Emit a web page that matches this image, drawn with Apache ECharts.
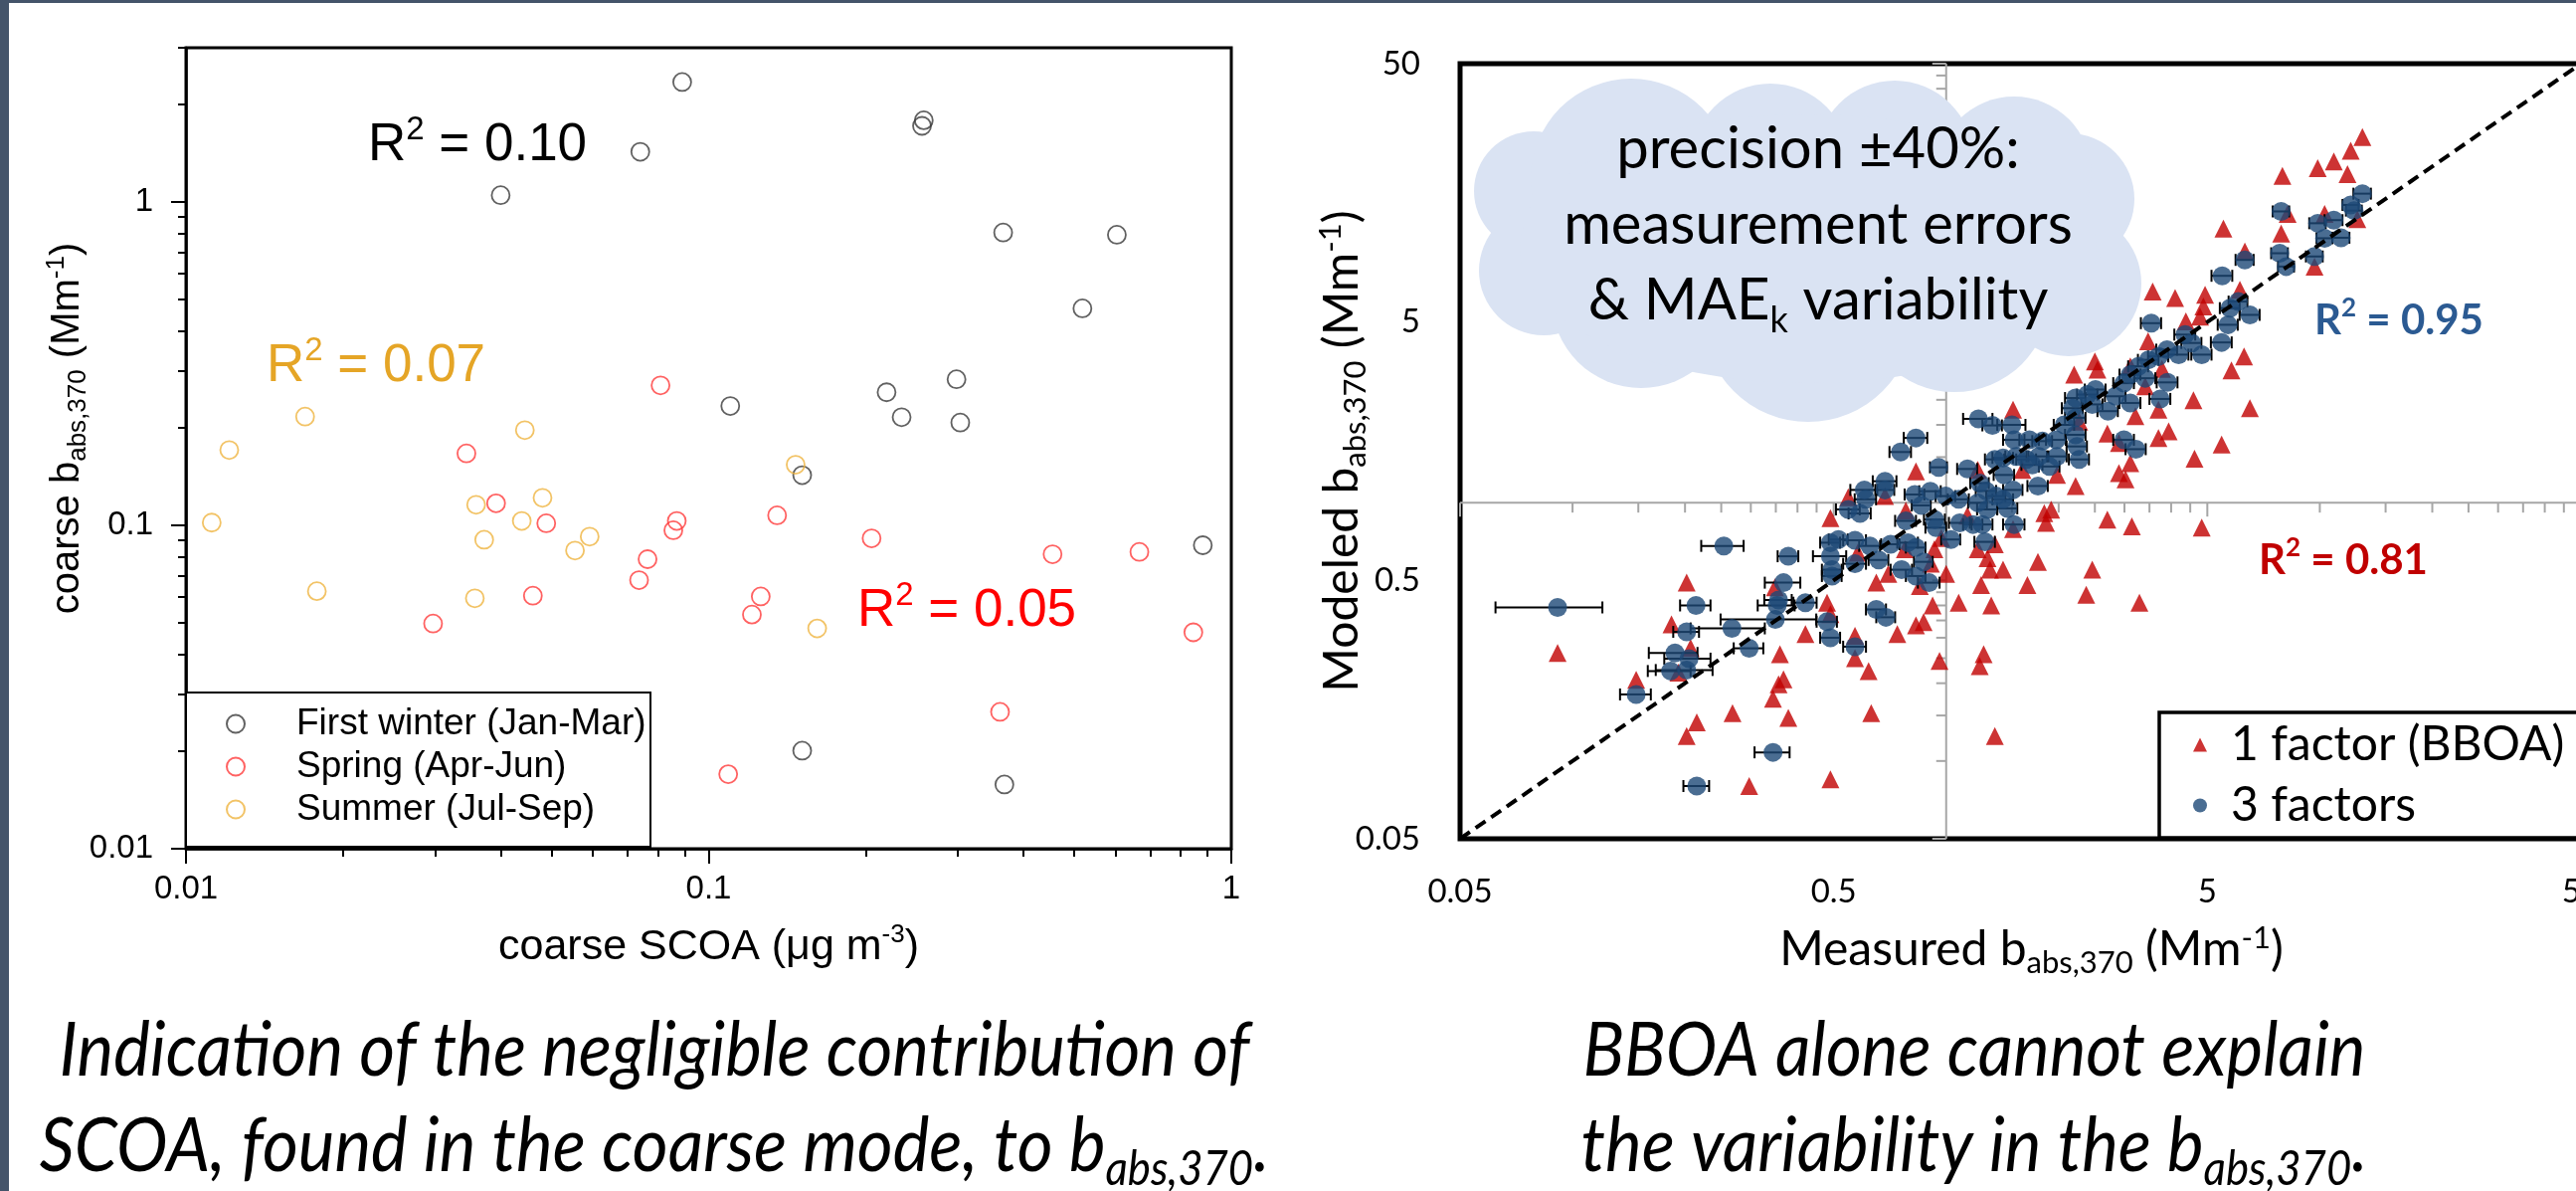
<!DOCTYPE html>
<html>
<head>
<meta charset="utf-8">
<title>coarse SCOA / modeled vs measured b_abs,370</title>
<script src="https://cdn.jsdelivr.net/npm/echarts@6/dist/echarts.min.js"></script>
<style>
  html, body { margin: 0; padding: 0; background: #fff; }
  #main { width: 2590px; height: 1197px; }
</style>
</head>
<body>
<div id="main"></div>
<script>
// ---------- left panel: coarse SCOA (ug m-3) vs coarse b_abs,370 (Mm-1) ----------
var winter = [[0.040,1.05],[0.074,1.43],[0.089,2.35],[0.258,1.79],[0.256,1.72],[0.366,0.805],[0.604,0.792],
  [0.519,0.469],[0.110,0.234],[0.219,0.258],[0.234,0.216],[0.298,0.283],[0.303,0.208],[0.151,0.143],
  [0.882,0.0868],[0.151,0.0201],[0.368,0.0158]];
var spring = [[0.0809,0.271],[0.0344,0.167],[0.0392,0.117],[0.0489,0.1015],[0.0869,0.1032],[0.0856,0.0966],
  [0.0764,0.0786],[0.0736,0.0677],[0.0461,0.0606],[0.0297,0.0497],[0.1352,0.1074],[0.1258,0.0603],[0.121,0.053],
  [0.205,0.0912],[0.455,0.0814],[0.667,0.0828],[0.846,0.0467],[0.361,0.0265],[0.109,0.0170]];
var summer = [[0.0169,0.217],[0.0121,0.171],[0.0445,0.197],[0.0112,0.102],[0.0359,0.1158],[0.0481,0.1217],
  [0.0439,0.1032],[0.0372,0.0903],[0.0592,0.0923],[0.0555,0.0836],[0.0178,0.0626],[0.0357,0.0595],
  [0.1467,0.154],[0.1613,0.048]];
var leftMajor = [0.01, 0.1, 1];
var leftMinorX = [0.02,0.03,0.04,0.05,0.06,0.07,0.08,0.09,0.2,0.3,0.4,0.5,0.6,0.7,0.8,0.9];
var leftMinorY = [0.02,0.03,0.04,0.05,0.06,0.07,0.08,0.09,0.2,0.3,0.4,0.5,0.6,0.7,0.8,0.9,2,3];

// ---------- right panel: measured vs modeled b_abs,370 (Mm-1) ----------
// 1 factor (BBOA): [measured, modeled]
var oneFactor = [[0.83,1.32],[0.686,1.06],[0.547,1.05],[0.49,0.87],[0.78,0.93],[0.97,0.73],[0.93,0.66],[0.91,0.58],
  [1.0,0.53],[1.215,0.66],[1.29,0.61],[1.31,0.55],[1.42,0.55],[1.35,0.69],[1.24,0.48],[0.65,0.49],[0.70,0.53],
  [0.58,0.64],[0.775,0.66],[0.85,0.475],[0.202,0.49],[0.348,0.47],[0.48,0.41],[0.49,0.37],[0.184,0.338],
  [0.207,0.274],[0.148,0.206],[0.359,0.259],[0.42,0.31],[0.57,0.305],[0.57,0.25],[0.62,0.223],[0.74,0.31],
  [0.83,0.335],[0.87,0.345],[0.92,0.40],[1.08,0.41],[1.32,0.40],[0.96,0.244],[1.26,0.259],[1.23,0.233],
  [0.367,0.207],[0.356,0.198],[0.344,0.174],[0.215,0.141],[0.202,0.125],[0.268,0.153],[0.378,0.147],
  [0.63,0.153],[1.35,0.125],[0.297,0.080],[0.49,0.085],[0.0912,0.262],[0.192,0.22],
  [7.94,18.4],[9.87,19.7],[5.52,11.5],[7.88,11.0],[8.2,13.1],[9.68,8.2],[6.3,9.37],[3.57,6.56],[4.1,6.19],
  [4.93,6.38],[4.88,5.74],[4.38,5.03],[4.78,5.25],[6.11,6.67],[3.47,4.21],[6.27,3.68],[5.8,3.25],[2.5,3.52],
  [2.54,3.27],[2.2,3.13],[3.11,3.37],[3.78,3.29],[3.41,2.82],[4.59,2.49],[6.5,2.32],[3.7,2.29],[3.21,2.16],
  [1.51,2.29],[2.27,2.06],[2.7,1.85],[2.9,1.70],[3.94,1.89],[3.7,1.78],[5.46,1.68],[3.11,1.42],[2.9,1.30],
  [3.02,1.23],[4.62,1.48],[2.22,1.16],[1.98,1.28],[1.6,1.34],[1.215,1.34],[1.83,0.91],[1.91,0.94],[1.85,0.835],
  [2.7,0.86],[3.14,0.81],[4.83,0.80],[1.51,0.79],[1.14,0.89],[1.76,0.59],[2.46,0.55],[2.37,0.44],[3.29,0.41],
  [1.65,0.48],[13.0,26.0],[12.1,23.0],[10.9,20.9],[11.86,18.7],[12.6,12.5],[10.3,13.1]];
// 3 factors: [measured, modeled, measured error]
var threeFactors = [[1.22,2.11,0.11],[1.33,1.99,0.08],[0.83,1.78,0.06],[0.755,1.57,0.05],[0.955,1.37,0.05],
  [1.14,1.35,0.07],[0.686,1.21,0.05],[0.686,1.12,0.04],[0.604,1.12,0.05],[0.609,1.03,0.04],[0.824,1.075,0.05],
  [0.907,1.107,0.06],[0.997,1.06,0.06],[1.08,1.03,0.07],[0.547,0.941,0.04],[0.588,0.908,0.04],[0.859,0.975,0.05],
  [0.932,0.86,0.06],[1.087,0.835,0.07],[1.18,0.823,0.07],[1.25,0.823,0.08],[1.29,0.941,0.08],[1.215,0.998,0.07],
  [1.36,1.06,0.08],[1.23,1.19,0.07],[1.35,1.47,0.08],[0.78,0.85,0.05],[0.94,0.80,0.06],[1.03,0.72,0.06],
  [1.27,0.705,0.08],[0.515,0.72,0.03],[0.49,0.70,0.03],[0.49,0.62,0.05],[0.495,0.55,0.03],[0.495,0.52,0.03],
  [0.57,0.715,0.04],[0.625,0.68,0.04],[0.66,0.60,0.04],[0.71,0.69,0.04],[0.79,0.70,0.05],[0.83,0.67,0.05],
  [0.87,0.59,0.05],[0.76,0.55,0.05],[0.83,0.52,0.05],[0.90,0.49,0.06],[0.57,0.58,0.04],[0.254,0.68,0.033],
  [0.378,0.62,0.024],[0.367,0.49,0.04],[0.356,0.42,0.03],[0.353,0.40,0.04],[0.349,0.353,0.10],[0.42,0.41,0.03],
  [0.214,0.40,0.02],[0.267,0.326,0.06],[0.202,0.316,0.016],[0.297,0.273,0.027],[0.188,0.262,0.028],
  [0.205,0.249,0.029],[0.183,0.223,0.024],[0.202,0.225,0.035],[0.148,0.181,0.014],[0.48,0.346,0.03],
  [0.49,0.30,0.03],[0.65,0.386,0.04],[0.69,0.36,0.04],[0.57,0.277,0.04],[0.344,0.108,0.037],[0.215,0.080,0.017],
  [0.0912,0.393,0.029],
  [7.88,13.4,0.4],[9.87,12.06,0.5],[10.3,10.55,0.5],[7.81,9.23,0.4],[8.13,8.2,0.4],[9.68,8.97,0.5],[6.3,8.7,0.35],
  [5.48,7.55,0.35],[6.05,6.0,0.35],[6.5,5.33,0.4],[5.75,5.66,0.35],[5.68,4.88,0.35],[5.46,4.17,0.35],
  [3.54,4.95,0.22],[4.36,4.47,0.28],[4.54,4.15,0.28],[4.83,3.74,0.3],[4.19,3.74,0.26],[3.9,3.91,0.25],
  [3.7,3.68,0.23],[3.48,3.57,0.22],[3.27,3.37,0.2],[3.11,3.13,0.2],[3.41,3.03,0.22],[3.91,2.92,0.25],
  [3.74,2.52,0.24],[2.99,2.9,0.19],[2.84,2.58,0.18],[3.11,2.43,0.2],[2.51,2.74,0.16],[2.39,2.62,0.15],
  [2.22,2.54,0.14],[2.18,2.32,0.14],[2.46,2.4,0.16],[2.71,2.26,0.17],[2.22,2.13,0.14],[1.5,2.0,0.13],
  [1.52,1.75,0.1],[1.67,1.75,0.1],[1.81,1.73,0.11],[1.97,1.75,0.12],[2.22,1.83,0.14],[2.24,1.65,0.14],
  [2.07,2.0,0.13],[2.99,1.75,0.19],[3.22,1.61,0.2],[1.98,1.51,0.12],[2.27,1.47,0.14],[1.77,1.51,0.11],
  [1.64,1.47,0.1],[1.54,1.51,0.1],[1.42,1.49,0.09],[1.89,1.38,0.12],[1.70,1.40,0.11],[1.43,1.28,0.09],
  [1.28,1.11,0.08],[1.51,1.12,0.09],[1.76,1.16,0.11],[1.42,1.03,0.09],[1.46,0.95,0.09],[1.52,0.823,0.1],
  [13.0,15.7,0.7],[12.1,14.2,0.6],[12.35,13.5,0.6],[10.9,12.4,0.6],[11.4,10.6,0.6]];
var identityLine = [[0.05,0.05],[50,50]];
var rightLabels = [0.05, 0.5, 5, 50];
var crossMajor = [0.05, 0.5, 5, 50];
var crossMinor = [0.1,0.15,0.2,0.25,0.3,0.35,0.4,0.45,1,1.5,2,2.5,3,3.5,4,4.5,10,15,20,25,30,35,40,45];

var L = "'Liberation Sans', Arial, sans-serif";
var C = "Lato, 'Open Sans', sans-serif";

function numLabel(v) { return String(+Number(v).toPrecision(4)); }

function renderErrorBar(params, api) {
  var x = api.value(0), y = api.value(1), dx = api.value(2);
  var lo = api.coord([x - dx, y]);
  var hi = api.coord([x + dx, y]);
  var st = { stroke: '#000', lineWidth: 2 };
  return { type: 'group', children: [
    { type: 'line', shape: { x1: lo[0], y1: lo[1], x2: hi[0], y2: hi[1] }, style: st },
    { type: 'line', shape: { x1: lo[0], y1: lo[1] - 6, x2: lo[0], y2: lo[1] + 6 }, style: st },
    { type: 'line', shape: { x1: hi[0], y1: hi[1] - 6, x2: hi[0], y2: hi[1] + 6 }, style: st }
  ]};
}

// grey axes crossing at (1, 1), Excel style
function renderCross(params, api) {
  var st = { stroke: '#a6a6a6', lineWidth: 2 };
  var kids = [];
  var a = api.coord([0.05, 1]), b = api.coord([50, 1]);
  var c = api.coord([1, 0.05]), d = api.coord([1, 50]);
  kids.push({ type: 'line', shape: { x1: a[0], y1: a[1], x2: b[0], y2: b[1] }, style: st });
  kids.push({ type: 'line', shape: { x1: c[0], y1: c[1], x2: d[0], y2: d[1] }, style: st });
  crossMinor.concat(crossMajor).forEach(function (v) {
    var len = crossMajor.indexOf(v) >= 0 ? 14 : 10;
    var p = api.coord([v, 1]);
    kids.push({ type: 'line', shape: { x1: p[0], y1: p[1], x2: p[0], y2: p[1] + len }, style: st });
    var q = api.coord([1, v]);
    kids.push({ type: 'line', shape: { x1: q[0] - len, y1: q[1], x2: q[0], y2: q[1] }, style: st });
  });
  return { type: 'group', children: kids };
}

var cloudFill = '#dae3f3';
var cloudBumps = [[1542,192,60],[1552,272,65],[1650,300,90],[1818,318,106],[1965,298,96],[2080,285,73],
  [2080,200,66],[2025,175,78],[1905,160,79],[1780,164,80],[1640,180,101]];
var graphics = [];
cloudBumps.forEach(function (c) {
  graphics.push({ type: 'circle', z: 50, silent: true, shape: { cx: c[0], cy: c[1], r: c[2] }, style: { fill: cloudFill } });
});
graphics.push({ type: 'ellipse', z: 50, silent: true, shape: { cx: 1818, cy: 250, rx: 290, ry: 135 }, style: { fill: cloudFill } });

function label(text, x, y, font, size, color, weight, rich) {
  return { type: 'text', z: 60, silent: true, style: {
    text: text, x: x, y: y, fill: color, fontSize: size, fontFamily: font, fontWeight: weight || 'normal',
    align: 'center', verticalAlign: 'middle', lineHeight: Math.round(size * 1.2), rich: rich || {} } };
}
function supStyle(font, size, color, weight) {
  return { s: { fontSize: size, fontFamily: font, fill: color, fontWeight: weight || 'normal', verticalAlign: 'top', lineHeight: size } };
}

graphics.push(label('R{s|2} = 0.10', 480, 146, L, 53, '#000', 'normal', supStyle(L, 33, '#000')));
graphics.push(label('R{s|2} = 0.07', 378, 368, L, 53, '#e5a526', 'normal', supStyle(L, 33, '#e5a526')));
graphics.push(label('R{s|2} = 0.05', 972, 614, L, 53, '#ff0000', 'normal', supStyle(L, 33, '#ff0000')));
graphics.push(label('R{s|2} = 0.95', 2412, 322, C, 42, '#2b5a92', 'bold', supStyle(C, 26, '#2b5a92', 'bold')));
graphics.push(label('R{s|2} = 0.81', 2356, 563, C, 42, '#c00000', 'bold', supStyle(C, 26, '#c00000', 'bold')));

graphics.push({ type: 'text', z: 60, silent: true, style: {
  text: 'precision ±40%:\nmeasurement errors\n& MAE{k|k} variability', x: 1828, y: 226,
  fill: '#000', fontSize: 58, fontFamily: C, align: 'center', verticalAlign: 'middle', lineHeight: 76,
  rich: { k: { fontSize: 36, fontFamily: C, fill: '#000', verticalAlign: 'bottom', lineHeight: 36 } } } });

// captions: Lato italic squeezed a little to get the narrow Calibri look
function caption(text, x) {
  return { type: 'text', z: 60, silent: true, x: x, y: 1104, scaleX: 0.91, style: {
    text: text, x: 0, y: 0, fill: '#000', fontSize: 76, fontStyle: 'italic', fontFamily: C,
    align: 'center', verticalAlign: 'middle', lineHeight: 96,
    rich: { s: { fontSize: 48, fontStyle: 'italic', fontFamily: C, fill: '#000', verticalAlign: 'bottom', lineHeight: 48 } } } };
}
graphics.push(caption('Indication of the negligible contribution of\nSCOA, found in the coarse mode, to b{s|abs,370}.', 658));
graphics.push(caption('BBOA alone cannot explain\nthe variability in the b{s|abs,370}.', 1985));

graphics.push({ type: 'rect', z: 100, silent: true, shape: { x: 0, y: 0, width: 9, height: 1197 }, style: { fill: '#44546a' } });
graphics.push({ type: 'rect', z: 100, silent: true, shape: { x: 0, y: 0, width: 2590, height: 3 }, style: { fill: '#44546a' } });

var nameRichL = {
  sub: { fontFamily: L, fontSize: 26, color: '#000', verticalAlign: 'bottom', lineHeight: 26 },
  sup: { fontFamily: L, fontSize: 26, color: '#000', verticalAlign: 'top', lineHeight: 26 }
};
var nameRichC = {
  sub: { fontFamily: C, fontSize: 31, color: '#000', verticalAlign: 'bottom', lineHeight: 31 },
  sup: { fontFamily: C, fontSize: 31, color: '#000', verticalAlign: 'top', lineHeight: 31 }
};

var chart = echarts.init(document.getElementById('main'));
chart.setOption({
  animation: false,
  backgroundColor: '#fff',
  grid: [
    { left: 187, top: 48, width: 1051, height: 805, show: true, borderColor: '#000', borderWidth: 3,
      backgroundColor: 'transparent', containLabel: false, outerBoundsMode: 'none' },
    { left: 1468, top: 64, width: 1127, height: 779, show: true, borderColor: '#000', borderWidth: 5,
      backgroundColor: 'transparent', containLabel: false, outerBoundsMode: 'none' }
  ],
  xAxis: [
    { gridIndex: 0, type: 'log', min: 0.01, max: 1, position: 'bottom',
      axisLine: { show: true, lineStyle: { color: '#000', width: 2.5 } },
      axisTick: { show: true, customValues: leftMajor, length: 15, lineStyle: { color: '#000', width: 2 } },
      axisLabel: { customValues: leftMajor, margin: 24, fontSize: 33, fontFamily: L, color: '#000', formatter: numLabel },
      splitLine: { show: false },
      name: 'coarse SCOA (μg m{sup|-3})', nameLocation: 'middle', nameGap: 74, nameMoveOverlap: false,
      nameTextStyle: { fontFamily: L, fontSize: 43, color: '#000', lineHeight: 50, rich: nameRichL } },
    { gridIndex: 0, type: 'log', min: 0.01, max: 1, position: 'bottom',
      axisLine: { show: false },
      axisTick: { show: true, customValues: leftMinorX, length: 8, lineStyle: { color: '#000', width: 2 } },
      axisLabel: { show: false }, splitLine: { show: false } },
    { gridIndex: 1, type: 'log', min: 0.05, max: 50, position: 'bottom',
      axisLine: { show: false }, axisTick: { show: false }, splitLine: { show: false },
      axisLabel: { customValues: rightLabels, margin: 37, fontSize: 33, fontFamily: C, color: '#000', formatter: numLabel },
      name: 'Measured b{sub|abs,370} (Mm{sup|-1})', nameLocation: 'middle', nameGap: 84, nameMoveOverlap: false,
      nameTextStyle: { fontFamily: C, fontSize: 48, color: '#000', lineHeight: 56, padding: [0, 0, 0, 22], rich: nameRichC } }
  ],
  yAxis: [
    { gridIndex: 0, type: 'log', min: 0.01, max: 3, position: 'left',
      axisLine: { show: true, lineStyle: { color: '#000', width: 2.5 } },
      axisTick: { show: true, customValues: leftMajor, length: 15, lineStyle: { color: '#000', width: 2 } },
      axisLabel: { customValues: leftMajor, margin: 33, fontSize: 33, fontFamily: L, color: '#000', formatter: numLabel },
      splitLine: { show: false },
      name: 'coarse b{sub|abs,370} (Mm{sup|-1})', nameLocation: 'middle', nameGap: 95, nameRotate: 90, nameMoveOverlap: false,
      nameTextStyle: { fontFamily: L, fontSize: 40, color: '#000', lineHeight: 48, padding: [0, 0, 0, 40], rich: nameRichL } },
    { gridIndex: 0, type: 'log', min: 0.01, max: 3, position: 'left',
      axisLine: { show: false },
      axisTick: { show: true, customValues: leftMinorY, length: 8, lineStyle: { color: '#000', width: 2 } },
      axisLabel: { show: false }, splitLine: { show: false } },
    { gridIndex: 1, type: 'log', min: 0.05, max: 50, position: 'left',
      axisLine: { show: false }, axisTick: { show: false }, splitLine: { show: false },
      axisLabel: { customValues: rightLabels, margin: 40, fontSize: 33, fontFamily: C, color: '#000', formatter: numLabel },
      name: 'Modeled b{sub|abs,370} (Mm{sup|-1})', nameLocation: 'middle', nameGap: 90, nameRotate: 90, nameMoveOverlap: false,
      nameTextStyle: { fontFamily: C, fontSize: 48, color: '#000', lineHeight: 56, rich: nameRichC } }
  ],
  legend: [
    { data: ['First winter (Jan-Mar)', 'Spring (Apr-Jun)', 'Summer (Jul-Sep)'], orient: 'vertical',
      left: 187, top: 696, itemGap: 0, itemWidth: 18, itemHeight: 18, padding: [10, 4, 16, 40],
      borderColor: '#000', borderWidth: 2, backgroundColor: '#fff', selectedMode: false, z: 8,
      textStyle: { fontFamily: L, fontSize: 37, color: '#000', lineHeight: 43, width: 352, padding: [0, 0, 0, 47] } },
    { data: ['1 factor (BBOA)', '3 factors'], orient: 'vertical',
      left: 2171, top: 716, itemGap: 0, itemWidth: 14, itemHeight: 14, padding: [2, 300, 2, 34],
      borderColor: '#000', borderWidth: 3.5, backgroundColor: '#fff', selectedMode: false, z: 8,
      textStyle: { fontFamily: C, fontSize: 48, color: '#000', lineHeight: 61, padding: [0, 0, 0, 19] } }
  ],
  series: [
    { name: 'First winter (Jan-Mar)', type: 'scatter', xAxisIndex: 0, yAxisIndex: 0, data: winter,
      symbol: 'circle', symbolSize: 18, silent: true, z: 2,
      itemStyle: { color: 'transparent', borderColor: '#3a3a3a', borderWidth: 1.8 } },
    { name: 'Spring (Apr-Jun)', type: 'scatter', xAxisIndex: 0, yAxisIndex: 0, data: spring,
      symbol: 'circle', symbolSize: 18, silent: true, z: 2,
      itemStyle: { color: 'transparent', borderColor: '#ff3b3b', borderWidth: 1.8 } },
    { name: 'Summer (Jul-Sep)', type: 'scatter', xAxisIndex: 0, yAxisIndex: 0, data: summer,
      symbol: 'circle', symbolSize: 18, silent: true, z: 2,
      itemStyle: { color: 'transparent', borderColor: '#efb440', borderWidth: 1.8 } },
    { name: 'axes at 1', type: 'custom', xAxisIndex: 2, yAxisIndex: 2, data: [[1, 1]], encode: { x: 0, y: 1 },
      renderItem: renderCross, silent: true, z: 1 },
    { name: '1 factor (BBOA)', type: 'scatter', xAxisIndex: 2, yAxisIndex: 2, data: oneFactor,
      symbol: 'triangle', symbolSize: 18, silent: true, z: 2, itemStyle: { color: '#c00000' } },
    { name: 'x error', type: 'custom', xAxisIndex: 2, yAxisIndex: 2, data: threeFactors, encode: { x: 0, y: 1 },
      renderItem: renderErrorBar, silent: true, z: 3 },
    { name: '3 factors', type: 'scatter', xAxisIndex: 2, yAxisIndex: 2, data: threeFactors, encode: { x: 0, y: 1 },
      symbol: 'circle', symbolSize: 19, silent: true, z: 4, itemStyle: { color: '#1d4877' } },
    { name: '1:1', type: 'line', xAxisIndex: 2, yAxisIndex: 2, data: identityLine, symbol: 'none', silent: true, z: 5,
      lineStyle: { color: '#000', width: 4, type: [12, 7] } }
  ],
  graphic: { elements: graphics }
});
</script>
</body>
</html>
